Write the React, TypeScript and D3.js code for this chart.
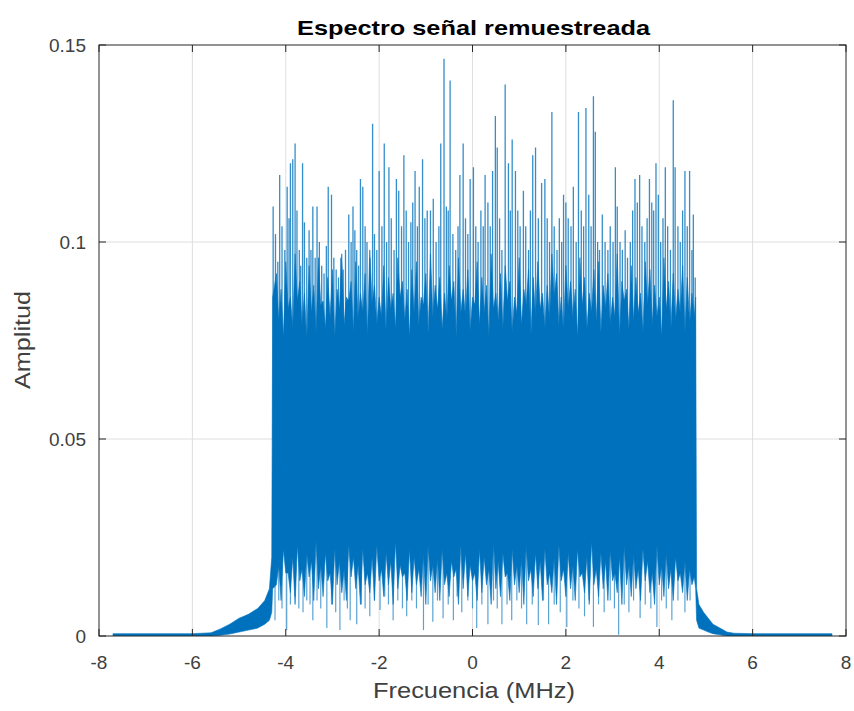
import React, { useEffect, useRef } from 'react'
import * as d3 from 'd3'

// low-level skirts on both sides of the band (MHz, amplitude)
const skirtF = [-7.7, -6.0, -5.6, -5.4, -5.2, -5.0, -4.8, -4.6, -4.45, -4.35, -4.3, -4.28,
  4.78, 4.8, 4.85, 4.95, 5.05, 5.15, 5.3, 5.45, 5.6, 6.0, 7.7]
const skirtTop = [0.0006, 0.0006, 0.0008, 0.0018, 0.003, 0.0045, 0.0055, 0.007, 0.009, 0.012, 0.02, 0.086,
  0.086, 0.012, 0.008, 0.006, 0.0045, 0.003, 0.002, 0.001, 0.0007, 0.0006, 0.0006]
const skirtBot = [0, 0, 0, 0.0002, 0.0005, 0.001, 0.0015, 0.002, 0.003, 0.004, 0.006, 0.012,
  0.012, 0.004, 0.002, 0.0015, 0.001, 0.0006, 0.0003, 0, 0, 0, 0]

// dense band: local maxima / minima of the spectrum every 0.1 MHz
const midF = [-4.2, -4.1, -4.0, -3.9, -3.8, -3.7, -3.6, -3.5, -3.4, -3.3,
  -3.2, -3.1, -3.0, -2.9, -2.8, -2.7, -2.6, -2.5, -2.4, -2.3,
  -2.2, -2.1, -2.0, -1.9, -1.8, -1.7, -1.6, -1.5, -1.4, -1.3,
  -1.2, -1.1, -1.0, -0.9, -0.8, -0.7, -0.6, -0.5, -0.4, -0.3,
  -0.2, -0.1, 0.0, 0.1, 0.2, 0.3, 0.4, 0.5, 0.6, 0.7,
  0.8, 0.9, 1.0, 1.1, 1.2, 1.3, 1.4, 1.5, 1.6, 1.7,
  1.8, 1.9, 2.0, 2.1, 2.2, 2.3, 2.4, 2.5, 2.6, 2.7,
  2.8, 2.9, 3.0, 3.1, 3.2, 3.3, 3.4, 3.5, 3.6, 3.7,
  3.8, 3.9, 4.0, 4.1, 4.2, 4.3, 4.4, 4.5, 4.6, 4.7]
const midTop = [0.092, 0.088, 0.095, 0.086, 0.097, 0.09, 0.087, 0.094, 0.089, 0.096,
  0.085, 0.091, 0.093, 0.088, 0.097, 0.086, 0.09, 0.095, 0.087, 0.092,
  0.098, 0.089, 0.086, 0.094, 0.091, 0.087, 0.096, 0.09, 0.088, 0.093,
  0.095, 0.086, 0.092, 0.097, 0.089, 0.091, 0.087, 0.094, 0.09, 0.096,
  0.088, 0.093, 0.086, 0.095, 0.091, 0.089, 0.097, 0.087, 0.092, 0.094,
  0.09, 0.086, 0.096, 0.088, 0.093, 0.091, 0.095, 0.087, 0.089, 0.097,
  0.092, 0.086, 0.094, 0.09, 0.088, 0.096, 0.091, 0.087, 0.093, 0.095,
  0.089, 0.092, 0.086, 0.097, 0.09, 0.088, 0.094, 0.091, 0.087, 0.095,
  0.093, 0.089, 0.086, 0.096, 0.09, 0.092, 0.088, 0.094, 0.091, 0.087]
const midValley = [0.08, 0.076, 0.083, 0.078, 0.085, 0.079, 0.075, 0.082, 0.077, 0.084,
  0.078, 0.081, 0.076, 0.083, 0.079, 0.085, 0.077, 0.08, 0.082, 0.076,
  0.084, 0.079, 0.081, 0.077, 0.083, 0.078, 0.086, 0.08, 0.076, 0.082,
  0.079, 0.084, 0.077, 0.081, 0.083, 0.078, 0.08, 0.085, 0.076, 0.082,
  0.081, 0.077, 0.084, 0.079, 0.082, 0.076, 0.083, 0.08, 0.078, 0.085,
  0.077, 0.082, 0.079, 0.084, 0.076, 0.081, 0.083, 0.078, 0.08, 0.086,
  0.079, 0.077, 0.083, 0.081, 0.076, 0.084, 0.078, 0.082, 0.08, 0.077,
  0.083, 0.079, 0.081, 0.076, 0.085, 0.078, 0.08, 0.082, 0.077, 0.084,
  0.079, 0.081, 0.076, 0.083, 0.078, 0.08, 0.082, 0.077, 0.079, 0.081]
const midBot = [0.013, 0.009, 0.016, 0.011, 0.008, 0.014, 0.01, 0.015, 0.009, 0.012,
  0.01, 0.014, 0.008, 0.013, 0.011, 0.009, 0.015, 0.012, 0.008, 0.013,
  0.011, 0.009, 0.014, 0.01, 0.013, 0.008, 0.012, 0.015, 0.009, 0.011,
  0.013, 0.01, 0.008, 0.014, 0.011, 0.009, 0.013, 0.01, 0.015, 0.008,
  0.012, 0.01, 0.014, 0.009, 0.011, 0.013, 0.008, 0.012, 0.01, 0.015,
  0.009, 0.013, 0.011, 0.008, 0.014, 0.01, 0.012, 0.009, 0.013, 0.011,
  0.008, 0.014, 0.01, 0.012, 0.009, 0.015, 0.011, 0.008, 0.013, 0.01,
  0.012, 0.009, 0.014, 0.011, 0.008, 0.013, 0.01, 0.012, 0.009, 0.014,
  0.011, 0.008, 0.013, 0.01, 0.012, 0.009, 0.014, 0.011, 0.009, 0.013]
const midRidge = [0.018, 0.022, 0.016, 0.02, 0.023, 0.017, 0.021, 0.019, 0.024, 0.018,
  0.021, 0.016, 0.022, 0.019, 0.017, 0.023, 0.02, 0.018, 0.022, 0.016,
  0.02, 0.023, 0.017, 0.021, 0.019, 0.024, 0.018, 0.016, 0.022, 0.02,
  0.017, 0.021, 0.023, 0.018, 0.02, 0.022, 0.016, 0.019, 0.017, 0.023,
  0.021, 0.018, 0.016, 0.022, 0.02, 0.017, 0.024, 0.019, 0.021, 0.016,
  0.022, 0.018, 0.02, 0.023, 0.017, 0.021, 0.019, 0.022, 0.016, 0.02,
  0.023, 0.017, 0.021, 0.018, 0.022, 0.016, 0.02, 0.024, 0.017, 0.021,
  0.019, 0.022, 0.016, 0.02, 0.023, 0.018, 0.021, 0.017, 0.022, 0.019,
  0.016, 0.023, 0.018, 0.021, 0.017, 0.02, 0.016, 0.019, 0.017, 0.015]

// upward spikes [MHz, amplitude]
const peaks: [number, number][] = [
  [-4.27, 0.109], [-4.22, 0.102], [-4.17, 0.095], [-4.13, 0.117], [-4.08, 0.104], [-4.02, 0.098],
  [-3.97, 0.114], [-3.93, 0.106], [-3.9, 0.12], [-3.85, 0.121], [-3.8, 0.125], [-3.76, 0.108],
  [-3.71, 0.098], [-3.68, 0.094], [-3.64, 0.12], [-3.6, 0.105], [-3.55, 0.096], [-3.5, 0.103],
  [-3.46, 0.098], [-3.42, 0.109], [-3.37, 0.096], [-3.33, 0.109], [-3.28, 0.1], [-3.23, 0.094],
  [-3.18, 0.092], [-3.13, 0.099], [-3.09, 0.114], [-3.02, 0.112], [-2.97, 0.096], [-2.92, 0.093],
  [-2.87, 0.091], [-2.82, 0.096], [-2.77, 0.093], [-2.72, 0.098], [-2.65, 0.107], [-2.6, 0.1],
  [-2.56, 0.109], [-2.52, 0.103], [-2.48, 0.098], [-2.44, 0.094], [-2.4, 0.116], [-2.35, 0.114],
  [-2.3, 0.104], [-2.26, 0.1], [-2.2, 0.096], [-2.14, 0.13], [-2.1, 0.102], [-2.05, 0.098],
  [-2.0, 0.118], [-1.94, 0.104], [-1.89, 0.125], [-1.84, 0.1], [-1.79, 0.119], [-1.74, 0.106],
  [-1.68, 0.098], [-1.63, 0.116], [-1.58, 0.113], [-1.52, 0.104], [-1.47, 0.122], [-1.42, 0.108],
  [-1.37, 0.1], [-1.32, 0.105], [-1.28, 0.11], [-1.23, 0.118], [-1.18, 0.104], [-1.14, 0.114],
  [-1.07, 0.121], [-1.02, 0.106], [-0.97, 0.108], [-0.9, 0.108], [-0.84, 0.111], [-0.78, 0.1],
  [-0.72, 0.104], [-0.68, 0.125], [-0.61, 0.1465], [-0.56, 0.109], [-0.52, 0.108], [-0.48, 0.141],
  [-0.42, 0.102], [-0.36, 0.098], [-0.31, 0.104], [-0.27, 0.117], [-0.2, 0.125], [-0.15, 0.106],
  [-0.1, 0.102], [-0.05, 0.116], [0.02, 0.119], [0.07, 0.104], [0.12, 0.1], [0.18, 0.108],
  [0.23, 0.104], [0.27, 0.117], [0.33, 0.11], [0.38, 0.104], [0.43, 0.118], [0.49, 0.132],
  [0.53, 0.124], [0.58, 0.106], [0.63, 0.098], [0.7, 0.14], [0.77, 0.12], [0.81, 0.108],
  [0.85, 0.126], [0.92, 0.118], [0.97, 0.108], [1.02, 0.104], [1.09, 0.113], [1.14, 0.104],
  [1.2, 0.098], [1.24, 0.108], [1.29, 0.122], [1.35, 0.124], [1.41, 0.106], [1.48, 0.115],
  [1.55, 0.116], [1.6, 0.106], [1.65, 0.1], [1.7, 0.133], [1.75, 0.104], [1.81, 0.098],
  [1.86, 0.106], [1.91, 0.1], [1.95, 0.112], [2.0, 0.11], [2.05, 0.106], [2.11, 0.104],
  [2.16, 0.114], [2.22, 0.1], [2.27, 0.133], [2.33, 0.108], [2.38, 0.104], [2.43, 0.134],
  [2.49, 0.112], [2.54, 0.104], [2.59, 0.137], [2.63, 0.128], [2.68, 0.1], [2.72, 0.098],
  [2.78, 0.107], [2.84, 0.1], [2.9, 0.098], [2.95, 0.104], [3.01, 0.1], [3.06, 0.119],
  [3.1, 0.109], [3.16, 0.1], [3.21, 0.098], [3.27, 0.103], [3.32, 0.096], [3.38, 0.1],
  [3.43, 0.108], [3.48, 0.116], [3.53, 0.11], [3.58, 0.117], [3.63, 0.104], [3.69, 0.1],
  [3.74, 0.106], [3.79, 0.116], [3.84, 0.11], [3.88, 0.108], [3.93, 0.12], [3.98, 0.112],
  [4.03, 0.1], [4.08, 0.106], [4.13, 0.119], [4.18, 0.104], [4.24, 0.098], [4.3, 0.136],
  [4.34, 0.119], [4.4, 0.104], [4.45, 0.1], [4.5, 0.108], [4.55, 0.118], [4.6, 0.104],
  [4.65, 0.118], [4.7, 0.098], [4.73, 0.107], [4.77, 0.091]
]

// downward spikes [MHz, amplitude]
const dips: [number, number][] = [
  [-4.23, 0.004], [-4.15, 0.009], [-4.08, 0.007], [-3.98, 0.0015], [-3.9, 0.008], [-3.8, 0.01],
  [-3.72, 0.007], [-3.63, 0.006], [-3.55, 0.009], [-3.48, 0.008], [-3.42, 0.004], [-3.33, 0.009],
  [-3.25, 0.007], [-3.12, 0.002], [-3.02, 0.008], [-2.93, 0.006], [-2.84, 0.0015], [-2.75, 0.009],
  [-2.68, 0.007], [-2.62, 0.004], [-2.48, 0.003], [-2.38, 0.008], [-2.3, 0.007], [-2.2, 0.005],
  [-2.1, 0.009], [-1.98, 0.0066], [-1.88, 0.01], [-1.8, 0.008], [-1.7, 0.004], [-1.6, 0.009],
  [-1.5, 0.007], [-1.41, 0.005], [-1.3, 0.009], [-1.2, 0.007], [-1.05, 0.0015], [-0.95, 0.008],
  [-0.85, 0.0036], [-0.75, 0.009], [-0.63, 0.0045], [-0.52, 0.008], [-0.41, 0.004], [-0.33, 0.01],
  [-0.23, 0.006], [-0.1, 0.009], [0.0, 0.007], [0.09, 0.002], [0.2, 0.008], [0.33, 0.003],
  [0.45, 0.009], [0.53, 0.007], [0.63, 0.003], [0.74, 0.008], [0.84, 0.004], [0.95, 0.009],
  [1.05, 0.007], [1.16, 0.003], [1.28, 0.008], [1.41, 0.0028], [1.52, 0.009], [1.63, 0.003],
  [1.75, 0.008], [1.88, 0.006], [2.02, 0.0023], [2.15, 0.009], [2.28, 0.007], [2.4, 0.005],
  [2.5, 0.009], [2.59, 0.0023], [2.7, 0.008], [2.82, 0.006], [2.95, 0.009], [3.04, 0.007],
  [3.13, 0.0003], [3.25, 0.008], [3.35, 0.006], [3.45, 0.009], [3.59, 0.0046], [3.7, 0.008],
  [3.82, 0.007], [3.95, 0.0023], [4.05, 0.009], [4.15, 0.007], [4.27, 0.004], [4.4, 0.009],
  [4.55, 0.006], [4.66, 0.009]
]

const xTicks = [-8, -6, -4, -2, 0, 2, 4, 6, 8]
const yTicks = [0, 0.05, 0.1, 0.15]

const W = 854
const H = 711
const blue = '#0072BD'
const axisColor = '#262626'
const labelColor = '#404040'
const font = 'Liberation Sans, Arial, Helvetica, sans-serif'

type Pt = { f: number, hi: number, lo: number }

function App () {
  const ref = useRef<SVGSVGElement>(null)

  useEffect(() => {
    const svg = d3.select(ref.current)
    svg.selectAll('*').remove()

    const left = 99
    const right = 846
    const top = 45
    const bottom = 636

    const x = d3.scaleLinear().domain([-8, 8]).range([left, right])
    const y = d3.scaleLinear().domain([0, 0.15]).range([bottom, top])

    svg.append('rect')
      .attr('width', W).attr('height', H).attr('fill', '#fff')

    // grid
    const grid = svg.append('g').attr('stroke', '#dedede').attr('stroke-width', 1)
    xTicks.slice(1, -1).forEach(t => {
      grid.append('line').attr('x1', x(t)).attr('x2', x(t)).attr('y1', top).attr('y2', bottom)
    })
    yTicks.slice(1, -1).forEach(t => {
      grid.append('line').attr('x1', left).attr('x2', right).attr('y1', y(t)).attr('y2', y(t))
    })

    svg.append('clipPath').attr('id', 'plotclip')
      .append('rect').attr('x', left).attr('y', top).attr('width', right - left).attr('height', bottom - top)

    const data = svg.append('g').attr('clip-path', 'url(#plotclip)')

    const spikes = (list: [number, number][], base: number, width: number, opacity: number) => {
      data.append('g')
        .selectAll('line')
        .data(list)
        .enter()
        .append('line')
        .attr('x1', d => x(d[0]))
        .attr('x2', d => x(d[0]))
        .attr('y1', y(base))
        .attr('y2', d => y(d[1]))
        .attr('stroke', blue)
        .attr('stroke-width', width)
        .attr('stroke-opacity', opacity)
    }

    spikes(peaks, 0.05, 1.3, 0.8)
    spikes(dips, 0.04, 1.2, 0.65)

    // envelope: left skirt, zig-zag band, right skirt
    const env: Pt[] = []
    skirtF.forEach((f, i) => { if (f < 0) env.push({ f, hi: skirtTop[i], lo: skirtBot[i] }) })
    midF.forEach((f, i) => {
      env.push({ f, hi: midTop[i], lo: midBot[i] })
      env.push({ f: f + 0.05, hi: midValley[i], lo: midRidge[i] })
    })
    skirtF.forEach((f, i) => { if (f > 0) env.push({ f, hi: skirtTop[i], lo: skirtBot[i] }) })

    const area = d3.area<Pt>()
      .x(d => x(d.f))
      .y0(d => y(d.lo))
      .y1(d => y(d.hi))
    data.append('path')
      .datum(env)
      .attr('d', area)
      .attr('fill', blue)
      .attr('stroke', blue)
      .attr('stroke-width', 0.6)

    // axes box
    svg.append('rect')
      .attr('x', left).attr('y', top).attr('width', right - left).attr('height', bottom - top)
      .attr('fill', 'none').attr('stroke', axisColor).attr('stroke-width', 1)

    const tickLen = 7
    const ticks = svg.append('g').attr('stroke', axisColor).attr('stroke-width', 1)
    xTicks.forEach(t => {
      ticks.append('line').attr('x1', x(t)).attr('x2', x(t)).attr('y1', bottom).attr('y2', bottom - tickLen)
      ticks.append('line').attr('x1', x(t)).attr('x2', x(t)).attr('y1', top).attr('y2', top + tickLen)
    })
    yTicks.forEach(t => {
      ticks.append('line').attr('x1', left).attr('x2', left + tickLen).attr('y1', y(t)).attr('y2', y(t))
      ticks.append('line').attr('x1', right).attr('x2', right - tickLen).attr('y1', y(t)).attr('y2', y(t))
    })

    const labels = svg.append('g')
      .attr('font-family', font).attr('font-size', 19).attr('fill', labelColor)
    xTicks.forEach(t => {
      labels.append('text')
        .attr('x', x(t)).attr('y', bottom + 33)
        .attr('text-anchor', 'middle')
        .text(String(t))
    })
    yTicks.forEach(t => {
      labels.append('text')
        .attr('x', left - 13).attr('y', y(t) + 7)
        .attr('text-anchor', 'end')
        .text(String(t))
    })

    svg.append('text')
      .attr('x', 373).attr('y', 698)
      .attr('textLength', 202).attr('lengthAdjust', 'spacingAndGlyphs')
      .attr('font-family', font).attr('font-size', 22).attr('fill', labelColor)
      .text('Frecuencia (MHz)')

    svg.append('g')
      .attr('transform', 'translate(30,' + 389 + ')')
      .append('text')
      .attr('transform', 'rotate(-90)')
      .attr('textLength', 98).attr('lengthAdjust', 'spacingAndGlyphs')
      .attr('font-family', font).attr('font-size', 22).attr('fill', labelColor)
      .text('Amplitud')

    svg.append('text')
      .attr('x', 297).attr('y', 35)
      .attr('textLength', 353).attr('lengthAdjust', 'spacingAndGlyphs')
      .attr('font-family', font).attr('font-size', 21).attr('font-weight', 'bold').attr('fill', '#000')
      .text('Espectro señal remuestreada')
  }, [])

  return (
    <svg ref={ref} width={W} height={H}
      style={{ position: 'absolute', left: 0, top: 0, display: 'block' }} />
  )
}

export default App
